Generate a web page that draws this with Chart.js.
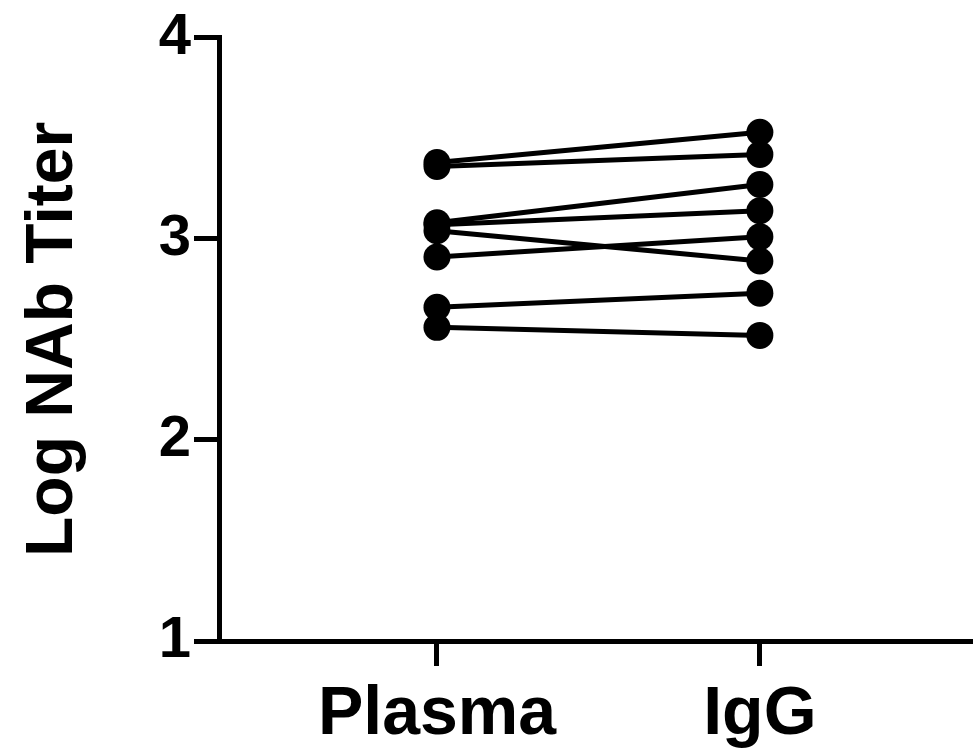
<!DOCTYPE html>
<html>
<head>
<meta charset="utf-8">
<script src="https://cdn.jsdelivr.net/npm/chart.js@4.4.1/dist/chart.umd.min.js"></script>
<style>
  html, body { margin: 0; padding: 0; background: #fff; overflow: hidden; }
  #wrap { width: 973px; height: 748px; position: relative; }
</style>
</head>
<body>
<div id="wrap"><canvas id="pairChart"></canvas></div>
<script>
// Data
const groups = ['Plasma', 'IgG'];
const plasmaTiter = [3.38, 3.36, 3.08, 3.07, 3.04, 2.91, 2.66, 2.56];
const iggTiter = [3.53, 3.42, 3.27, 3.14, 2.89, 3.01, 2.73, 2.52];
const yTicks = [1, 2, 3, 4];

document.addEventListener('DOMContentLoaded', function() {
    Chart.defaults.font.family = '"Liberation Sans", Arial, Helvetica, sans-serif';
    Chart.defaults.font.weight = 'bold';
    Chart.defaults.color = '#000';

    // one dataset per subject, joining its two measurements
    const datasets = plasmaTiter.map((p, i) => ({
        data: [{ x: 0, y: p }, { x: 1, y: iggTiter[i] }],
        borderColor: '#000',
        backgroundColor: '#000',
        borderWidth: 5,
        pointRadius: 13.5,
        pointHoverRadius: 13.5,
        pointBorderWidth: 0,
        showLine: true,
        fill: false,
        tension: 0
    }));

    new Chart(document.getElementById('pairChart'), {
        type: 'scatter',
        data: { datasets: datasets },
        options: {
            responsive: true,
            maintainAspectRatio: false,
            animation: false,
            layout: {
                autoPadding: false,
                padding: { top: 34, right: 0, bottom: 0, left: 0 }
            },
            plugins: {
                legend: { display: false },
                tooltip: { enabled: false }
            },
            scales: {
                x: {
                    type: 'linear',
                    min: -0.675,
                    max: 1.66,
                    afterBuildTicks: s => { s.ticks = groups.map((g, i) => ({ value: i })); },
                    afterFit: s => { s.height = 107; },
                    border: { display: true, color: '#000', width: 5 },
                    grid: {
                        display: true,
                        drawOnChartArea: false,
                        drawTicks: true,
                        tickLength: 25,
                        tickWidth: 5,
                        tickColor: '#000'
                    },
                    ticks: {
                        autoSkip: false,
                        maxRotation: 0,
                        padding: 8,
                        font: { size: 68, weight: 'bold' },
                        callback: v => groups[v]
                    }
                },
                y: {
                    min: 1,
                    max: 4,
                    afterBuildTicks: s => { s.ticks = yTicks.map(v => ({ value: v })); },
                    afterFit: s => { s.width = 219; },
                    border: { display: true, color: '#000', width: 5 },
                    grid: {
                        display: true,
                        drawOnChartArea: false,
                        drawTicks: true,
                        tickLength: 25,
                        tickWidth: 5,
                        tickColor: '#000'
                    },
                    ticks: {
                        padding: 3,
                        font: { size: 58, weight: 'bold' }
                    },
                    title: {
                        display: true,
                        text: 'Log NAb Titer',
                        padding: { top: 14, bottom: 0 },
                        font: { size: 66, weight: 'bold' }
                    }
                }
            }
        }
    });
});
</script>
</body>
</html>
